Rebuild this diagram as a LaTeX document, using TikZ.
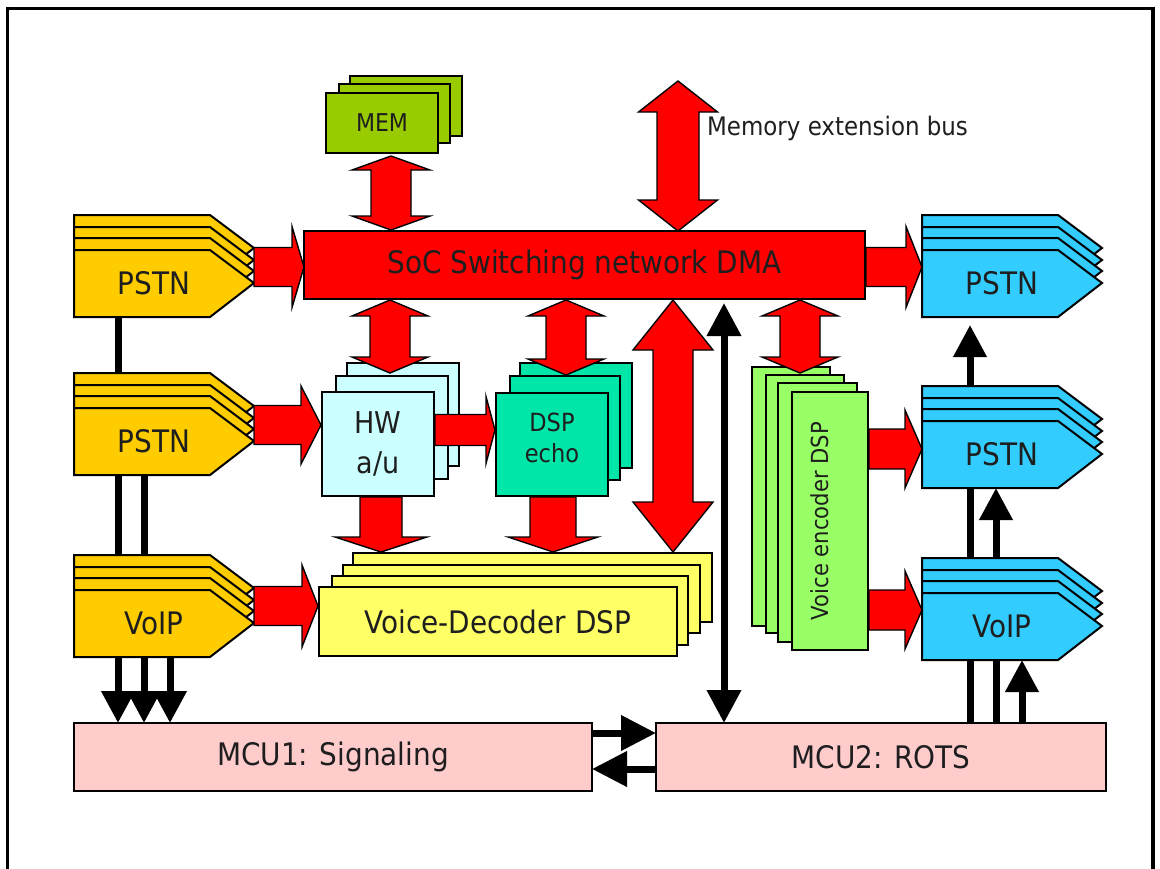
\documentclass[tikz,border=0pt]{standalone}
\usepackage{fontspec}
\setmainfont{DejaVu Sans Condensed}
\usetikzlibrary{arrows.meta,backgrounds}

\definecolor{gold}{HTML}{FFCC00}
\definecolor{sky}{HTML}{33CCFF}
\definecolor{memgreen}{HTML}{99CC00}
\definecolor{hwcyan}{HTML}{CCFFFF}
\definecolor{echogreen}{HTML}{00E5A8}
\definecolor{encgreen}{HTML}{99FF66}
\definecolor{decyellow}{HTML}{FFFF66}
\definecolor{mcupink}{HTML}{FFCCCC}
\definecolor{ink}{HTML}{1E1E1E}

\tikzset{
  outl/.style={draw=black, line width=2pt},
  blk/.style={fill=red, draw=black, line width=1.4pt, line join=miter},
  txt/.style={text=ink, inner sep=0pt},
  big/.style={font=\fontsize{31}{38}\selectfont},
  mid/.style={font=\fontsize{25}{31}\selectfont},
  area/.style={inner sep=0pt, outer sep=0pt, anchor=north west, txt},
  sig/.style={line width=7pt, -{Triangle[length=32pt,width=32pt]}},
  sigboth/.style={line width=7pt, {Triangle[length=33pt,width=33pt]}-{Triangle[length=33pt,width=33pt]}},
  sigmcu/.style={line width=7pt, -{Triangle[length=35pt,width=34pt]}},
}

% rectangular panel: [style]{name}{x1}{y1}{x2}{y2}{text}
\newcommand{\panel}[7][]{%
  \node[area, outl, #1, minimum width={#5-#3}, minimum height={#6-#4}] (#2) at (#3,#4) {#7};}

% layered line-card tab: {name}{x}{front top}{colour}{text}
\newcommand{\tape}[5]{%
  \foreach \dy in {35,23,12,0}{%
    \filldraw[outl, fill=#4] (#2,#3-\dy) -- ++(136,0) -- ++(44,33) -- ++(-44,34) -- ++(-136,0) -- cycle;}
  \node[area, big, minimum width=160, minimum height=67] (#1) at (#2,#3) {#5};}

% vertical two-way bus arrow: {x}{top tip}{bottom tip}{half shaft}{half head}{head length}
\newcommand{\vbus}[6]{%
  \filldraw[blk] (#1,#2) -- (#1+#5,#2+#6) -- (#1+#4,#2+#6) -- (#1+#4,#3-#6) -- (#1+#5,#3-#6)
    -- (#1,#3) -- (#1-#5,#3-#6) -- (#1-#4,#3-#6) -- (#1-#4,#2+#6) -- (#1-#5,#2+#6) -- cycle;}

% downward flow arrow: {x}{top}{tip}{half shaft}{half head}{head length}
\newcommand{\vflow}[6]{%
  \filldraw[blk] (#1-#4,#2) -- (#1+#4,#2) -- (#1+#4,#3-#6) -- (#1+#5,#3-#6) -- (#1,#3)
    -- (#1-#5,#3-#6) -- (#1-#4,#3-#6) -- cycle;}

% rightward flow arrow: {y}{start}{tip}{half shaft}{half head}{head length}
\newcommand{\hflow}[6]{%
  \filldraw[blk] (#2,#1-#4) -- (#3-#6,#1-#4) -- (#3-#6,#1-#5) -- (#3,#1) -- (#3-#6,#1+#5)
    -- (#3-#6,#1+#4) -- (#2,#1+#4) -- cycle;}

\begin{document}
\begin{tikzpicture}[x=1pt, y=-1pt]
\useasboundingbox (0,0) rectangle (1160,868);

% outer frame
\draw[line width=3.5pt] (7.5,875) -- (7.5,8.5) -- (1153,8.5) -- (1153,875);

% controllers
\panel[fill=mcupink, big]{mcu1}{74}{723}{592}{791}{MCU1: Signaling}
\panel[fill=mcupink, big]{mcu2}{656}{723}{1106}{791}{MCU2: ROTS}

% line-card tabs, left (inputs) and right (outputs)
\tape{lp1}{74}{250}{gold}{PSTN}
\tape{lp2}{74}{408}{gold}{PSTN}
\tape{lv}{74}{590}{gold}{VoIP}
\tape{rp1}{922}{250}{sky}{PSTN}
\tape{rp2}{922}{421}{sky}{PSTN}
\tape{rv}{922}{593}{sky}{VoIP}

% signalling lines, run underneath the tabs
\begin{scope}[on background layer]
  \draw[sig] ([xshift=44pt]lp1.south west) -- ([xshift=44pt]lp1.south west |- mcu1.north);
  \draw[sig] ([xshift=70pt]lp2.south west) -- ([xshift=70pt]lp2.south west |- mcu1.north);
  \draw[sig] ([xshift=96pt]lv.south west) -- ([xshift=96pt]lv.south west |- mcu1.north);
  \draw[sig] ([xshift=48pt]rp1.south west |- mcu2.north) -- ([xshift=48pt,yshift=-8pt]rp1.south west);
  \draw[sig] ([xshift=74pt]rp2.south west |- mcu2.north) -- ([xshift=74pt]rp2.south west);
  \draw[sig] ([xshift=100pt]rv.south west |- mcu2.north) -- ([xshift=100pt]rv.south west);
\end{scope}

% switching fabric
\panel[fill=red, big]{soc}{304}{231}{865}{299}{SoC Switching network DMA}

% memory banks
\panel[fill=memgreen]{mem3}{350}{76}{462}{136}{}
\panel[fill=memgreen]{mem2}{339}{84}{450}{143}{}
\panel[fill=memgreen, font=\fontsize{24.5}{30}\selectfont]{mem}{326}{93}{438}{153}{MEM}

% a/u-law converters
\panel[fill=hwcyan]{hw3}{347}{363}{459}{466}{}
\panel[fill=hwcyan]{hw2}{336}{376}{448}{479}{}
\panel[fill=hwcyan, align=center, font=\fontsize{30}{40}\selectfont]{hw}{322}{392}{434}{496}{HW\\a/u}

% echo cancellers
\panel[fill=echogreen]{echo3}{520}{363}{632}{468}{}
\panel[fill=echogreen]{echo2}{510}{376}{620}{480}{}
\panel[fill=echogreen]{echo}{496}{393}{608}{496}{}
\node[txt, align=center, font=\fontsize{25}{31}\selectfont] (echolbl) at ([yshift=7pt]echo.center) {DSP\\echo};

% voice encoders
\panel[fill=encgreen]{enc4}{752}{367}{830}{626}{}
\panel[fill=encgreen]{enc3}{766}{375}{844}{633}{}
\panel[fill=encgreen]{enc2}{778}{383}{857}{642}{}
\panel[fill=encgreen]{enc}{792}{392}{868}{650}{}
\node[txt, rotate=90, font=\fontsize{23.5}{28}\selectfont] (enclbl) at ([xshift=-10pt]enc.center) {Voice encoder DSP};

% voice decoders
\panel[fill=decyellow]{dec4}{353}{553}{712}{622}{}
\panel[fill=decyellow]{dec3}{343}{565}{700}{633}{}
\panel[fill=decyellow]{dec2}{332}{576}{688}{645}{}
\panel[fill=decyellow, big]{dec}{319}{587}{677}{656}{Voice-Decoder DSP}

% data-path arrows
\vbus{678}{81}{231}{21}{39.5}{31}
\node[txt, font=\fontsize{25.5}{31}\selectfont, anchor=west] (extbus) at (707,128) {Memory extension bus};
\vbus{391}{156}{230}{20}{39}{14}
\vbus{390}{300}{373}{20}{38}{16}
\vbus{566}{300}{375}{20}{38}{16}
\vbus{800}{300}{373}{20}{38}{16}
\vbus{673}{300}{552}{20}{40}{50}
\vflow{381}{497}{552}{21}{46}{15}
\vflow{553}{497}{552}{23}{45}{15}
\hflow{267}{254}{304}{19.5}{40.5}{12}
\hflow{425}{254}{321}{19.5}{39}{20}
\hflow{430}{435}{495}{15.5}{33.5}{9}
\hflow{606}{254}{318}{19.5}{41}{16}
\hflow{267}{866}{922}{19.5}{40.5}{16}
\hflow{449}{869}{922}{20}{39}{17}
\hflow{610}{869}{922}{20}{39}{17}

% control bus between fabric and ROTS controller
\draw[sigboth] ([xshift=420pt,yshift=-4pt]soc.south west) -- ([xshift=420pt]soc.south west |- mcu2.north);

% controller links
\draw[sigmcu] ([yshift=-10pt]mcu1.north east) -- ([yshift=-10pt]mcu1.north east -| mcu2.west);
\draw[sigmcu] ([yshift=-46pt]mcu2.north west) -- ([yshift=-46pt]mcu2.north west -| mcu1.east);

\end{tikzpicture}
\end{document}
